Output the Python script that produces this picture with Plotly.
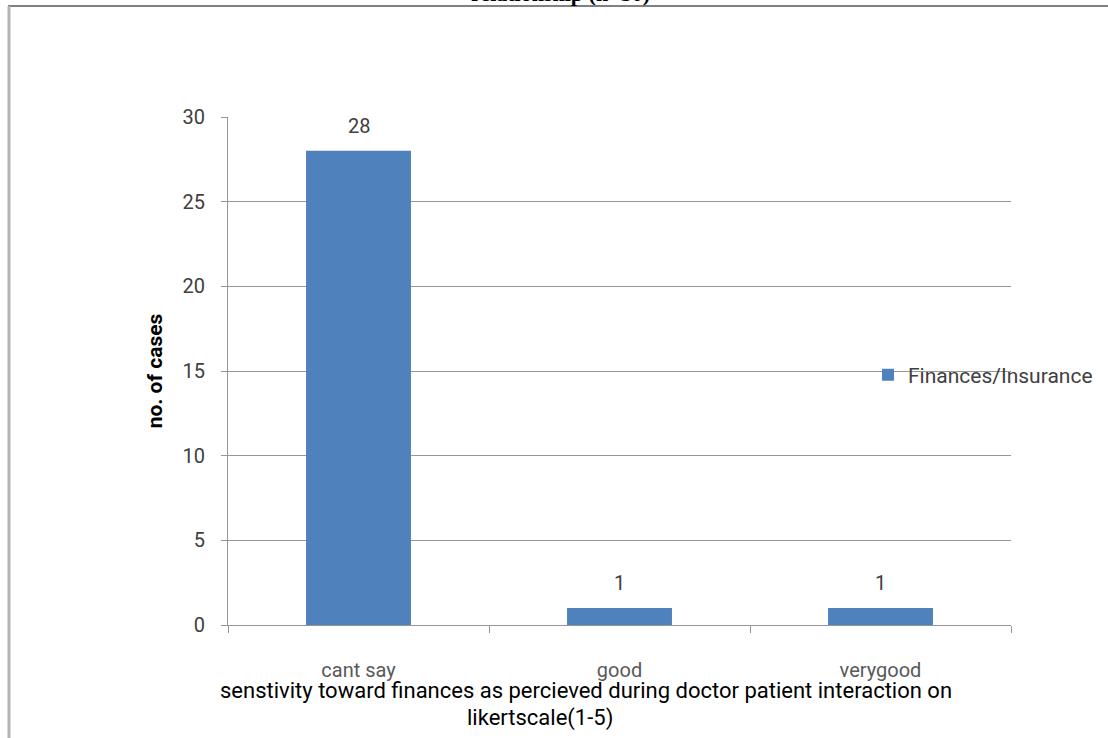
import plotly.graph_objects as go

categories = ["cant say", "good", "verygood"]
values = [28, 1, 1]
series_name = "Finances/Insurance"
y_ticks = [0, 5, 10, 15, 20, 25, 30]
x_title_line1 = "senstivity toward finances as percieved during doctor patient interaction on"
x_title_line2 = "likertscale(1-5)"
y_title = "no. of cases"
top_title = "relationship (n=30)"

W, H = 1108, 738
L, R, T, B = 228, 97, 117, 113
pw, ph = W - L - R, H - T - B


def px(x):
    return (x - L) / pw


def py(y):
    return (H - B - y) / ph


FONT = "Roboto, Liberation Sans, sans-serif"
GRID = "#969696"

fig = go.Figure()
fig.add_trace(go.Bar(
    x=categories, y=values, name=series_name,
    marker=dict(color="#4F81BD", line=dict(width=0)),
))

for c, v in zip(categories, values):
    fig.add_annotation(x=c, y=v, text=str(v), showarrow=False, yanchor="middle",
                       yshift=25, font=dict(family=FONT, size=20, color="#404040"))

fig.update_layout(
    width=W, height=H,
    margin=dict(l=L, r=R, t=T, b=B, autoexpand=False),
    paper_bgcolor="white", plot_bgcolor="white",
    bargap=0.598,
    showlegend=True,
    legend=dict(x=px(868), y=py(375), xanchor="left", yanchor="middle",
                bgcolor="rgba(0,0,0,0)", font=dict(family=FONT, size=21, color="#404040"),
                itemwidth=30),
    font=dict(family=FONT, color="#404040"),
)

fig.update_yaxes(
    range=[0, 30], tickvals=y_ticks, showgrid=True, gridcolor=GRID, gridwidth=1,
    showline=True, linecolor=GRID, linewidth=1, ticks="outside", ticklen=6,
    tickcolor=GRID, zeroline=False,
    tickfont=dict(family=FONT, size=20, color="#404040"),
    ticklabelstandoff=12,
    title=dict(text="<b>" + y_title + "</b>", standoff=14,
               font=dict(family=FONT, size=21, color="black")),
)
fig.update_xaxes(
    showline=True, linecolor=GRID, linewidth=1, ticks="outside", ticklen=7,
    tickcolor=GRID, tickson="boundaries", showgrid=False,
    tickfont=dict(family=FONT, size=20, color="#595959"),
    ticklabelstandoff=27,
)

fig.add_annotation(
    text=x_title_line1, xref="paper", yref="paper", x=px(586), y=py(690),
    xanchor="center", yanchor="middle", showarrow=False,
    font=dict(family=FONT, size=22, color="black"),
)
fig.add_annotation(
    text=x_title_line2, xref="paper", yref="paper", x=px(540), y=py(718),
    xanchor="center", yanchor="middle", showarrow=False,
    font=dict(family=FONT, size=22, color="black"),
)

fig.add_annotation(
    text="<b>" + top_title + "</b>",
    xref="paper", yref="paper", x=px(560), y=py(8), xanchor="center", yanchor="bottom",
    showarrow=False, font=dict(family="Liberation Serif, Times New Roman, serif", size=22, color="black"),
)

# page border lines
fig.add_shape(type="line", xref="paper", yref="paper", x0=px(8), x1=px(1108), y0=py(6), y1=py(6),
              line=dict(color="#808080", width=2))
fig.add_shape(type="line", xref="paper", yref="paper", x0=px(9), x1=px(9), y0=py(6), y1=py(738),
              line=dict(color="#B4B4B4", width=3))

fig.write_html("out.html", config={"displayModeBar": False},
               post_script="document.body.style.margin='0px';")
